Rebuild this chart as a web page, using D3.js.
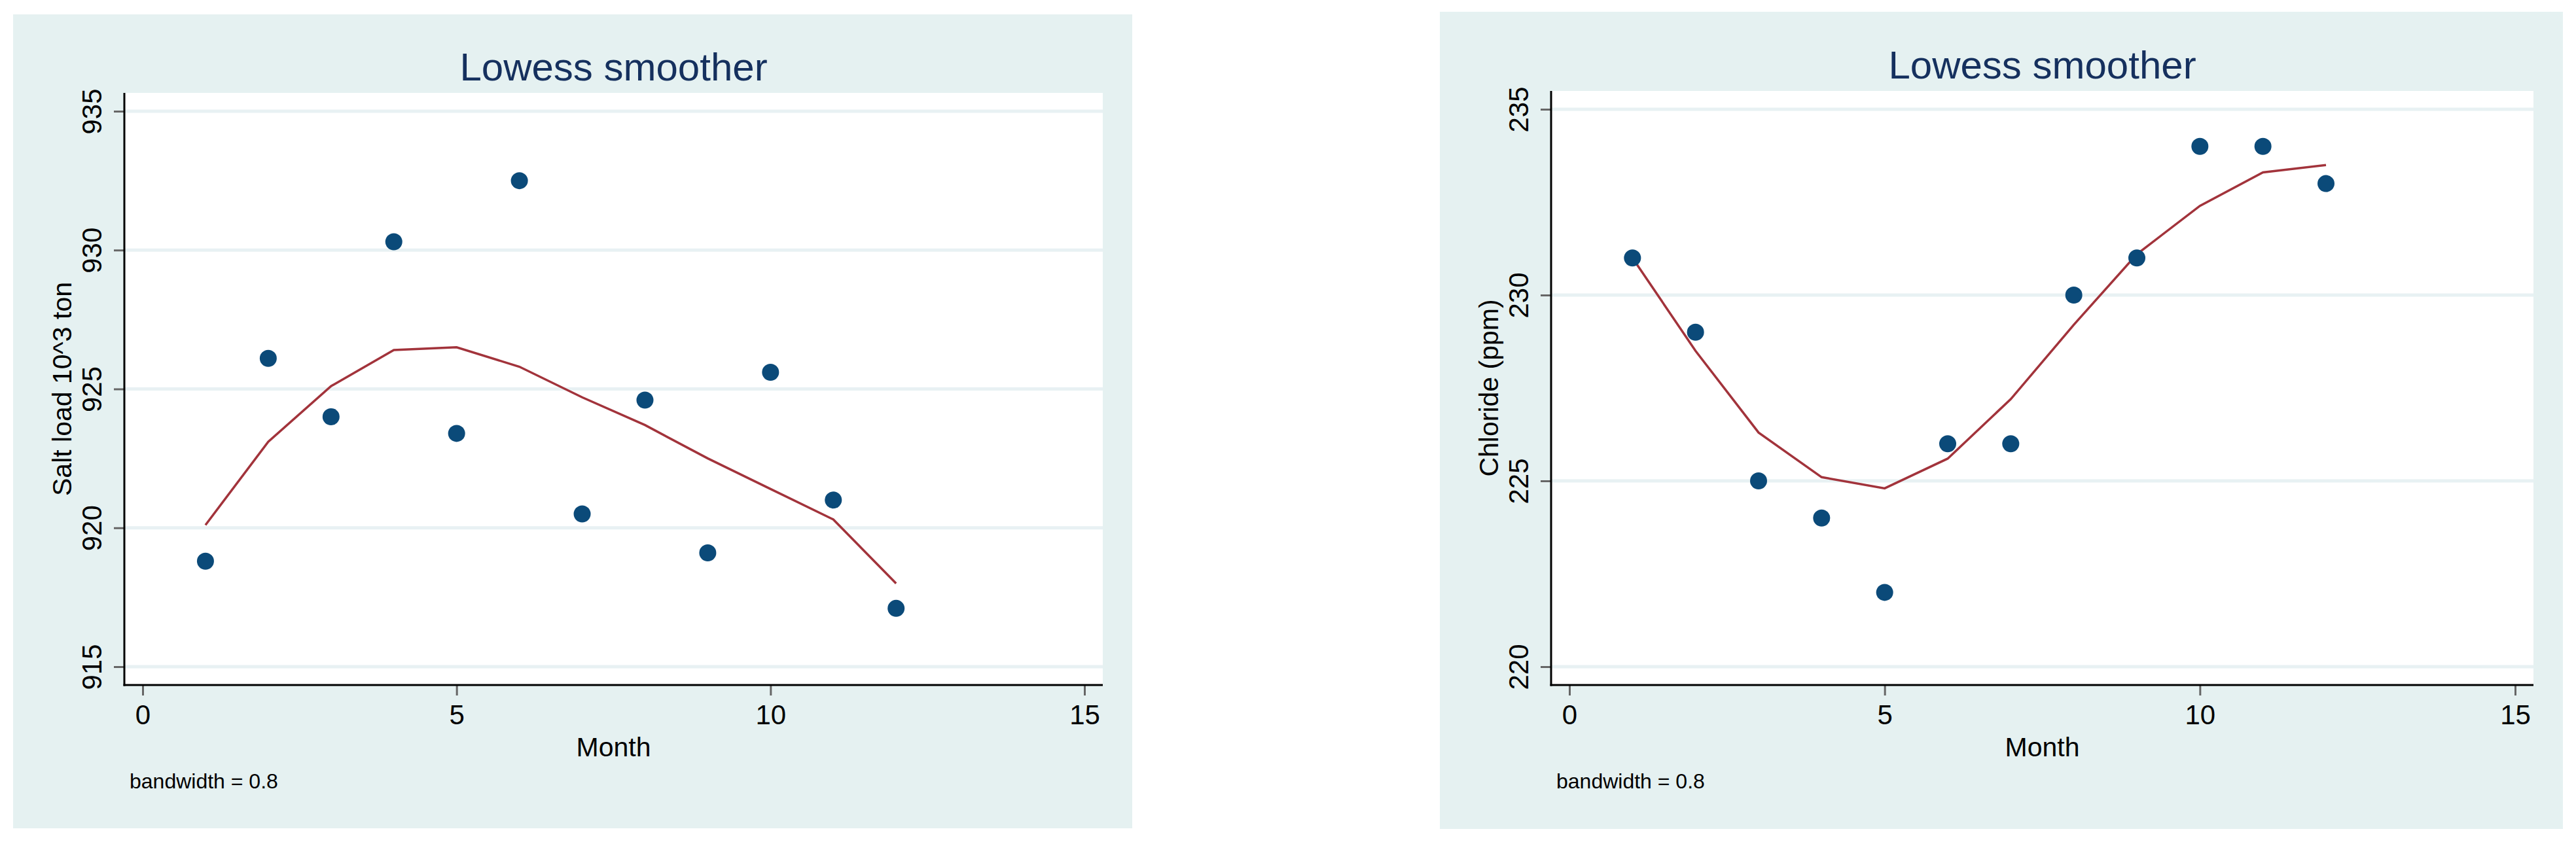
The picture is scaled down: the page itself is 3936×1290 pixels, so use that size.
<!DOCTYPE html>
<html>
<head>
<meta charset="utf-8">
<script src="https://cdn.jsdelivr.net/npm/d3@7"></script>
<style>
  html, body { margin: 0; padding: 0; background: #ffffff; }
  svg { display: block; font-family: "Liberation Sans", Arial, Helvetica, sans-serif; }
</style>
</head>
<body>
<svg id="chart" width="3936" height="1290"></svg>
<script>
// ---- data ----
var months = [1, 2, 3, 4, 5, 6, 7, 8, 9, 10, 11, 12];
var saltLoad = [918.8, 926.1, 924.0, 930.3, 923.4, 932.5, 920.5, 924.6, 919.1, 925.6, 921.0, 917.1];
var saltLowess = [920.1, 923.1, 925.1, 926.4, 926.5, 925.8, 924.7, 923.7, 922.5, 921.4, 920.3, 918.0];
var chloride = [231, 229, 225, 224, 222, 226, 226, 230, 231, 234, 234, 233];
var chlorideLowess = [231.0, 228.5, 226.3, 225.1, 224.8, 225.6, 227.2, 229.2, 231.1, 232.4, 233.3, 233.5];
var xTicks = [0, 5, 10, 15];
var saltTicks = [915, 920, 925, 930, 935];
var chlorideTicks = [220, 225, 230, 235];

var titleText = "Lowess smoother";
var xTitle = "Month";
var noteText = "bandwidth = 0.8";

var svg = d3.select("#chart");

// one Stata-like panel
const drawPanel = (opt) => {
    var pad = 28; // space between outer ticks and the plot region edges
    var g = svg.append("g");

    // outer light background
    g.append("rect")
        .attr("x", opt.left).attr("y", opt.top)
        .attr("width", opt.right - opt.left).attr("height", opt.bottom - opt.top)
        .attr("fill", "#e5f1f1");

    var xScale = d3.scaleLinear().domain([0, 15]).range([opt.x0, opt.x1]);
    var yScale = d3.scaleLinear().domain(opt.yDomain).range([opt.y0, opt.y1]);

    var pl = opt.x0 - pad, pr = opt.x1 + pad;
    var pt = opt.y1 - pad, pb = opt.y0 + pad;

    // white plot region
    g.append("rect")
        .attr("x", pl).attr("y", pt)
        .attr("width", pr - pl).attr("height", pb - pt)
        .attr("fill", "#ffffff");

    // horizontal grid lines
    g.selectAll(".grid")
        .data(opt.yTicks)
        .enter()
        .append("line")
        .attr("x1", pl).attr("x2", pr)
        .attr("y1", d => yScale(d)).attr("y2", d => yScale(d))
        .attr("stroke", "#e8f1f3")
        .attr("stroke-width", 5);

    // title
    g.append("text")
        .attr("x", (pl + pr) / 2)
        .attr("y", opt.titleY)
        .attr("text-anchor", "middle")
        .attr("fill", "#15305e")
        .style("font-size", "60px")
        .text(titleText);

    // y axis
    var yAxis = d3.axisLeft(yScale).tickValues(opt.yTicks).tickSize(16).tickSizeOuter(0);
    var ya = g.append("g")
        .attr("transform", "translate(" + pl + ",0)")
        .call(yAxis);
    ya.select(".domain").remove();
    ya.selectAll(".tick line").attr("stroke", "#666666").attr("stroke-width", 3);
    ya.selectAll(".tick text")
        .attr("x", 0).attr("y", 0).attr("dy", "0.35em")
        .attr("transform", "translate(-50,0) rotate(-90)")
        .style("text-anchor", "middle")
        .style("font-size", "42px")
        .attr("fill", "#000000");

    // x axis
    var xAxis = d3.axisBottom(xScale).tickValues(xTicks).tickSize(16).tickSizeOuter(0);
    var xa = g.append("g")
        .attr("transform", "translate(0," + pb + ")")
        .call(xAxis);
    xa.select(".domain").remove();
    xa.selectAll(".tick line").attr("stroke", "#666666").attr("stroke-width", 3);
    xa.selectAll(".tick text")
        .attr("y", 45).attr("dy", "0.35em")
        .style("font-size", "42px")
        .attr("fill", "#000000");

    // axis lines
    g.append("line")
        .attr("x1", pl).attr("x2", pl).attr("y1", pt).attr("y2", pb + 1.5)
        .attr("stroke", "#000000").attr("stroke-width", 3);
    g.append("line")
        .attr("x1", pl - 1.5).attr("x2", pr).attr("y1", pb).attr("y2", pb)
        .attr("stroke", "#000000").attr("stroke-width", 3);

    // axis titles
    g.append("text")
        .attr("transform", "translate(" + (pl - 95) + "," + ((pt + pb) / 2) + ") rotate(-90)")
        .attr("dy", "0.35em")
        .attr("text-anchor", "middle")
        .style("font-size", "41px")
        .attr("fill", "#000000")
        .text(opt.yTitle);
    g.append("text")
        .attr("x", (pl + pr) / 2)
        .attr("y", pb + 95)
        .attr("dy", "0.35em")
        .attr("text-anchor", "middle")
        .style("font-size", "41px")
        .attr("fill", "#000000")
        .text(xTitle);

    // note
    g.append("text")
        .attr("x", pl + 8)
        .attr("y", opt.noteY)
        .style("font-size", "32px")
        .attr("fill", "#000000")
        .text(noteText);

    // lowess line
    var line = d3.line()
        .x((d, i) => xScale(months[i]))
        .y(d => yScale(d));
    g.append("path")
        .datum(opt.smooth)
        .attr("d", line)
        .attr("fill", "none")
        .attr("stroke", "#a2333b")
        .attr("stroke-width", 3.5);

    // scatter points
    g.selectAll(".dot")
        .data(opt.values)
        .enter()
        .append("circle")
        .attr("cx", (d, i) => xScale(months[i]))
        .attr("cy", d => yScale(d))
        .attr("r", 13)
        .attr("fill", "#0b4a79");
};

drawPanel({
    left: 20, right: 1730, top: 22, bottom: 1266,
    x0: 218, x1: 1657,
    yDomain: [915, 935], y0: 1019, y1: 170,
    yTicks: saltTicks,
    values: saltLoad, smooth: saltLowess,
    yTitle: "Salt load 10^3 ton",
    titleY: 123, noteY: 1205
});

drawPanel({
    left: 2200, right: 3916, top: 18, bottom: 1267,
    x0: 2398, x1: 3843,
    yDomain: [220, 235], y0: 1019, y1: 167,
    yTicks: chlorideTicks,
    values: chloride, smooth: chlorideLowess,
    yTitle: "Chloride (ppm)",
    titleY: 120, noteY: 1205
});
</script>
</body>
</html>
